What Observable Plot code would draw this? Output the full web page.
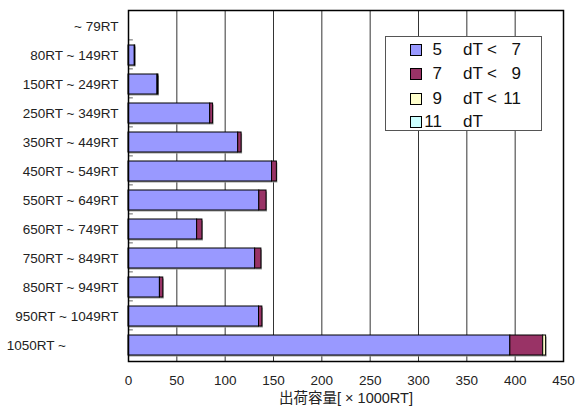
<!DOCTYPE html>
<html>
<head>
<meta charset="utf-8">
<script src="https://cdn.jsdelivr.net/npm/d3@7"></script>
<script src="https://cdn.jsdelivr.net/npm/@observablehq/plot@0.6"></script>
<style>
  body { margin: 0; background: #fff; }
  #chart { position: relative; width: 587px; height: 407px; font-family: "Liberation Sans", Arial, "Noto Sans CJK JP", sans-serif; }
  #chart svg { display: block; }
  .legend { position: absolute; left: 385px; top: 36px; width: 157px; height: 95px; border: 1px solid #555; background: #fff; box-sizing: border-box; font-size: 17px; color: #111; }
  .row { position: absolute; left: 0; width: 100%; height: 20px; }
  .sw { position: absolute; left: 24px; top: 4px; width: 10px; height: 10px; border: 1px solid #000; }
  .lo { position: absolute; right: 99px; top: 0; line-height: 20px; }
  .dt { position: absolute; left: 77px; top: 0; line-height: 20px; }
  .lt { position: absolute; left: 101px; top: 0; line-height: 20px; }
  .hi { position: absolute; right: 20px; top: 0; line-height: 20px; }
</style>
</head>
<body>
<div id="chart"></div>
<script>
// Shipment capacity per refrigeration-ton class, split by temperature difference band
const categories = ["~ 79RT", "80RT ~ 149RT", "150RT ~ 249RT", "250RT ~ 349RT", "350RT ~ 449RT",
  "450RT ~ 549RT", "550RT ~ 649RT", "650RT ~ 749RT", "750RT ~ 849RT", "850RT ~ 949RT",
  "950RT ~ 1049RT", "1050RT ~"];
const bands = ["5 dT< 7", "7 dT< 9", "9 dT<11", "11 dT"];
const dt5to7  = [0, 6.5, 30, 84.5, 113.5, 148.5, 135.3, 71, 131, 32.5, 135, 395];
const dt7to9  = [0, 0.5, 1, 3, 3.5, 5, 7.5, 5.5, 6.5, 3.5, 3.5, 34];
const dt9to11 = [0, 0, 0, 0, 0, 0, 0, 0, 0, 0, 0, 3];
const dt11up  = [0, 0, 0, 0, 0, 0, 0, 0, 0, 0, 0, 0];
const bandColors = ["#9999FF", "#993366", "#FFFFCC", "#CCFFFF"];
const xTicks = [0, 50, 100, 150, 200, 250, 300, 350, 400, 450];
const legendLo = ["5", "7", "9", "11"];
const legendHi = ["7", "9", "11", ""];

const series = [dt5to7, dt7to9, dt9to11, dt11up];
const rows = [];
categories.forEach((c, i) => series.forEach((s, k) => rows.push({cat: c, band: bands[k], value: s[i]})));

const W = 587, H = 407, mT = 10, mB = 46, mL = 128, mR = 24;
const step = (H - mT - mB) / categories.length;

// the open-ended last class sits further left, padded with figure spaces
const yFormat = d => d === "1050RT ~" ? d + "\u2007\u2007\u2007\u2007\u2007\u2007\u2007" : d;

const chart = Plot.plot({
  width: W, height: H,
  marginTop: mT, marginBottom: mB, marginLeft: mL, marginRight: mR,
  style: {fontFamily: '"Liberation Sans", Arial, "Noto Sans CJK JP", sans-serif', fontSize: "13px", color: "#222"},
  x: {domain: [0, 450], ticks: xTicks, label: null},
  y: {domain: categories, paddingInner: 0.32, paddingOuter: 0.16, label: null},
  color: {domain: bands, range: bandColors},
  marks: [
    Plot.gridX(xTicks.slice(1), {stroke: "#111", strokeOpacity: 0.85}),
    Plot.ruleY(categories.slice(1), {y: d => d, x1: 0, x2: 5, dy: -step / 2 - 1, stroke: "#666"}),
    Plot.barX(rows, Plot.stackX({y: "cat", x: "value", fill: "#999", order: bands, z: "band", dx: 1, dy: 1.5, filter: d => d.value > 0})),
    Plot.barX(rows, Plot.stackX({y: "cat", x: "value", fill: "band", order: bands, z: "band", stroke: "#000", strokeWidth: 1, filter: d => d.value > 0})),
    Plot.axisY({tickSize: 0, tickPadding: 10, fontSize: 13.5, tickFormat: yFormat}),
    Plot.axisX({ticks: xTicks, tickSize: 0, tickPadding: 14, fontSize: 13.5, label: null}),
    Plot.axisX({ticks: [], tickSize: 0, fontSize: 14.5,
      label: "出荷容量[ × 1000RT]", labelAnchor: "center", labelArrow: "none", labelOffset: 41}),
    Plot.frame({stroke: "#000", strokeWidth: 1.5})
  ]
});
const root = document.getElementById("chart");
root.appendChild(chart);

// Legend box
const lg = document.createElement("div");
lg.className = "legend";
const rowTops = [3, 27, 52, 75];
bands.forEach((b, k) => {
  const r = document.createElement("div");
  r.className = "row";
  r.style.top = rowTops[k] + "px";
  r.innerHTML = `<span class="sw" style="background:${bandColors[k]}"></span>` +
    `<span class="lo">${legendLo[k]}</span><span class="dt">dT</span>` +
    (legendHi[k] ? `<span class="lt">&lt;</span><span class="hi">${legendHi[k]}</span>` : "");
  lg.appendChild(r);
});
root.appendChild(lg);
</script>
</body>
</html>
